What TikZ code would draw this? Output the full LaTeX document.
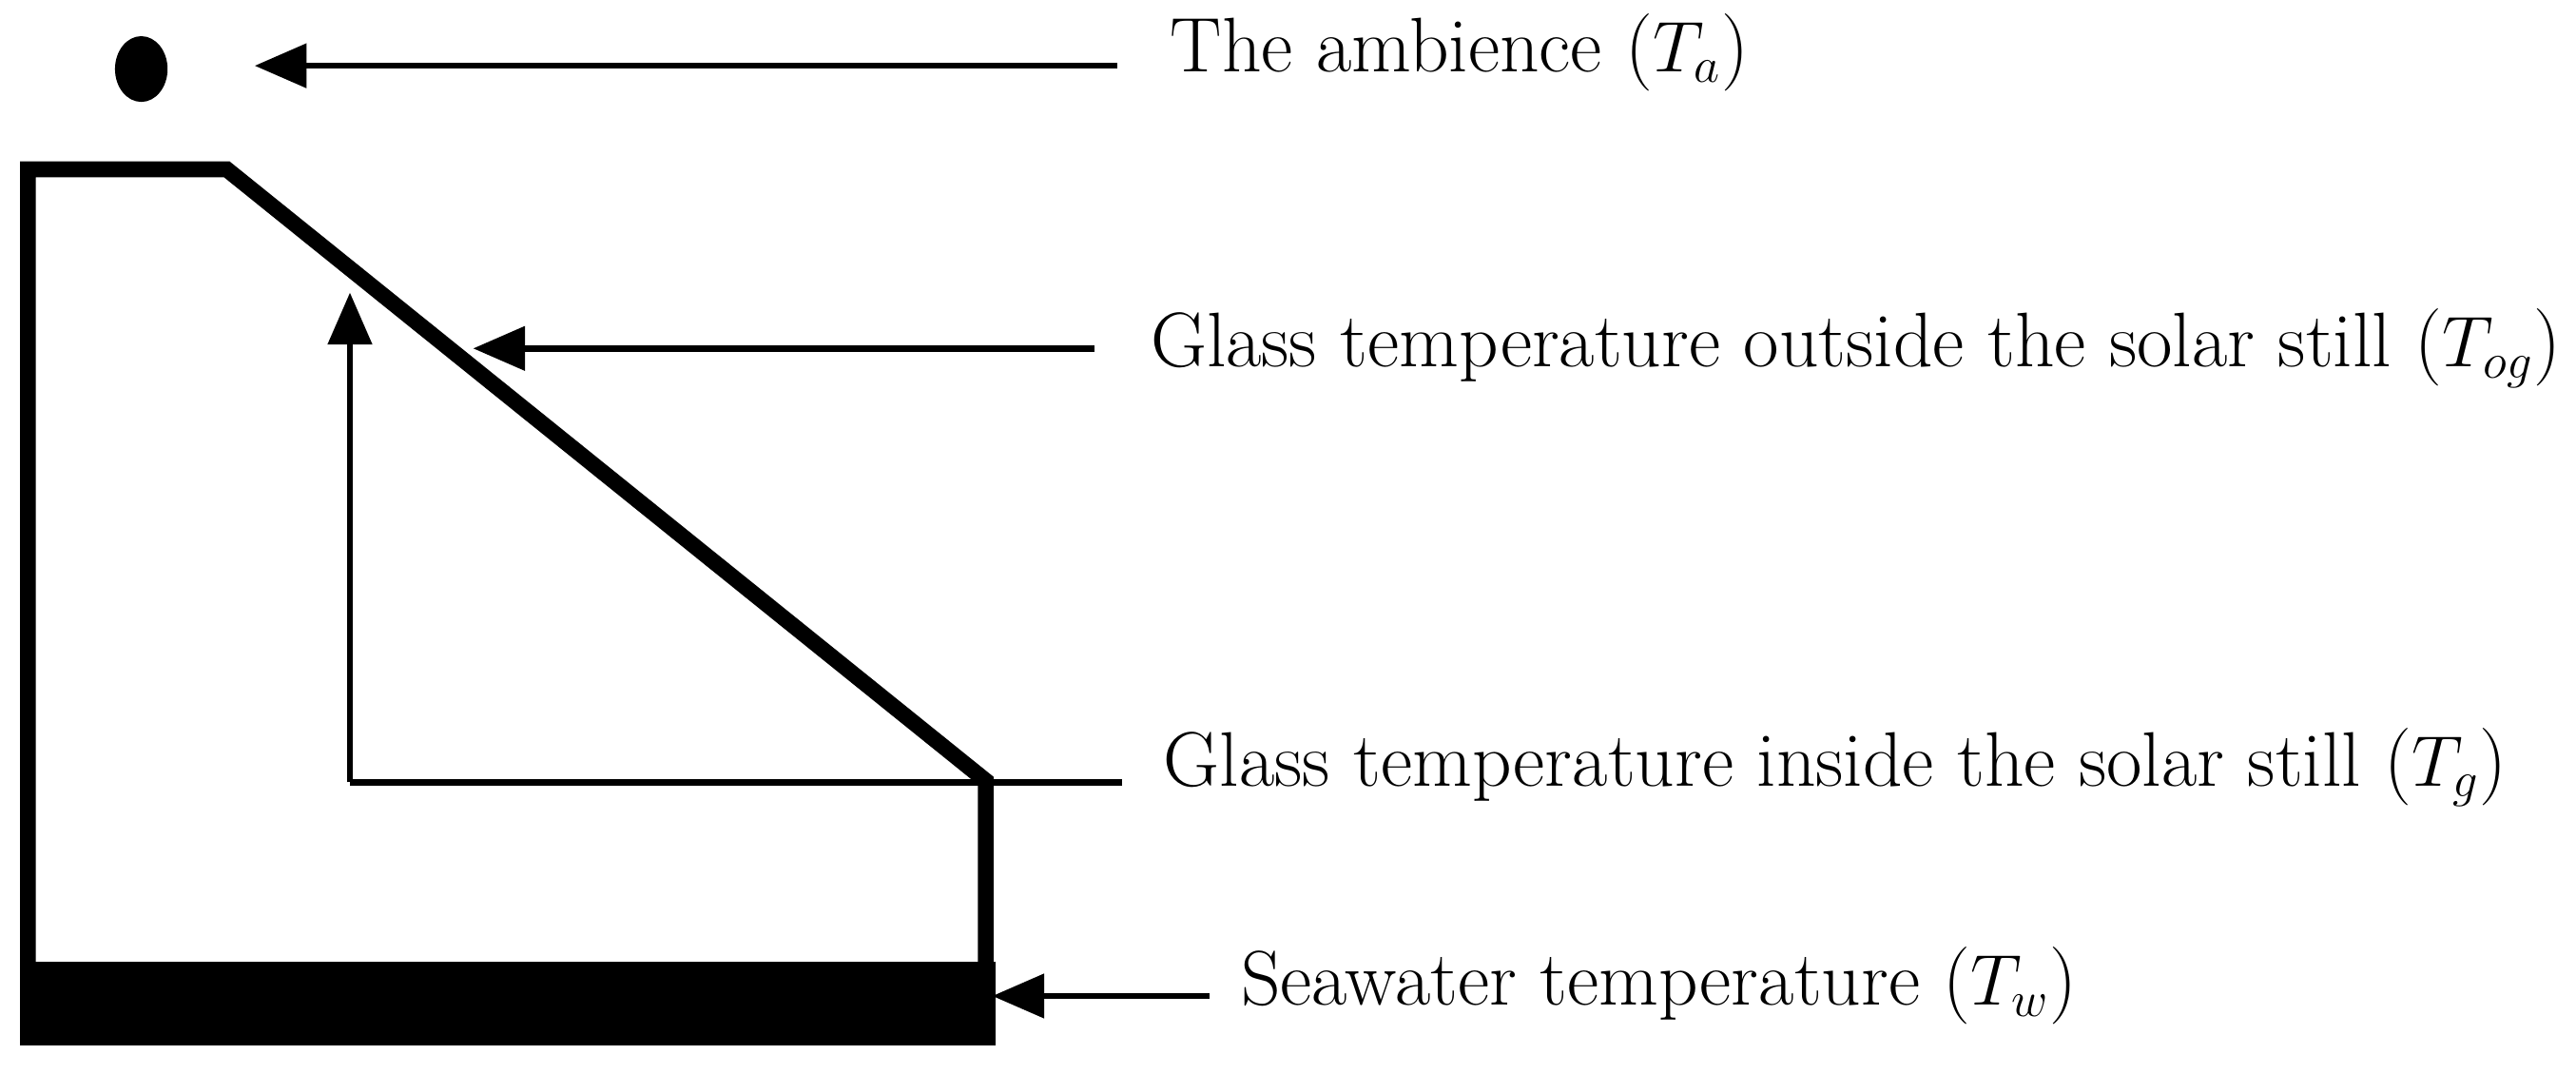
\documentclass[tikz,border=0pt]{standalone}
\usetikzlibrary{arrows.meta}
\begin{document}
\begin{tikzpicture}[x=0.02cm,y=-0.02cm,
  thin/.style={line width=2.2pt},
  arr/.style={thin,-{Triangle[length=18pt,width=15pt]}},
  lab/.style={anchor=west,inner sep=0pt,font=\fontsize{26.8}{30}\selectfont}]
\useasboundingbox (0,0) rectangle (1568,653);
\fill[black] (86,42) ellipse (16 and 20);
\fill[black] (15,585) rectangle (606,636);
\draw[line width=5.5pt,line join=miter] (17,636) -- (17,103) -- (138,103) -- (600,475) -- (600,632);
\coordinate (top) at (213,178);
\coordinate (corner) at (213,476);
\coordinate (gr) at (600,476);
\coordinate (ge) at (683,476);
\draw[thin] (ge) -- (gr) -- (corner);
\draw[arr] (corner) -- (top);
\node[lab] (ta) at (712,32) {The ambience ($T_a$)};
\node[lab] (tog) at (700,212) {Glass temperature outside the solar still ($T_{og}$)};
\node[lab] (tg) at (708,467) {Glass temperature inside the solar still ($T_g$)};
\node[lab] (tw) at (755,600) {Seawater temperature ($T_w$)};
\coordinate (a1) at (680,40); \coordinate (a2) at (155,40);
\coordinate (b1) at (666,212); \coordinate (b2) at (288,212);
\coordinate (c1) at (736,606); \coordinate (c2) at (604,606);
\draw[arr] (a1) -- (a2);
\draw[arr] (b1) -- (b2);
\draw[arr] (c1) -- (c2);
\end{tikzpicture}
\end{document}
